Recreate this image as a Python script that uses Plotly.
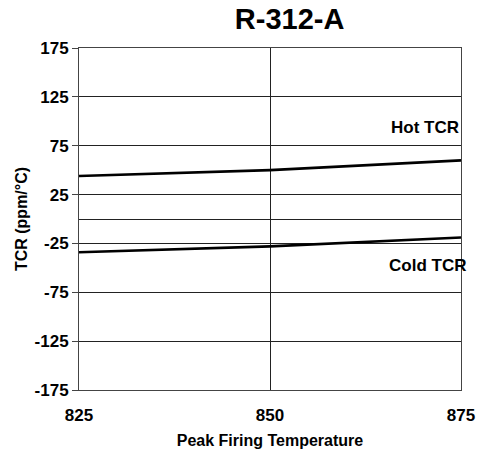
import plotly.graph_objects as go

# Peak firing temperature (°C) and TCR readings (ppm/°C)
temperature = [825, 850, 875]
hot_tcr = [44, 50, 60]
cold_tcr = [-34, -28, -19]

y_ticks = [175, 125, 75, 25, -25, -75, -125, -175]
x_ticks = [825, 850, 875]

FONT = "Liberation Sans, Arial, sans-serif"

fig = go.Figure()
fig.add_trace(go.Scatter(x=temperature, y=hot_tcr, mode="lines",
                         line=dict(color="black", width=2.6), name="Hot TCR"))
fig.add_trace(go.Scatter(x=temperature, y=cold_tcr, mode="lines",
                         line=dict(color="black", width=2.6), name="Cold TCR"))

fig.add_annotation(text="<b>Hot TCR</b>", xref="paper", yref="y",
                   x=1.0, y=94, xanchor="right", yanchor="middle",
                   showarrow=False, font=dict(family=FONT, size=17, color="black"))
fig.add_annotation(text="<b>Cold TCR</b>", xref="paper", yref="y",
                   x=1.018, y=-48, xanchor="right", yanchor="middle",
                   showarrow=False, font=dict(family=FONT, size=17, color="black"))

fig.update_layout(
    width=486, height=453,
    margin=dict(l=79, r=25, t=48, b=63),
    paper_bgcolor="white", plot_bgcolor="white",
    showlegend=False,
    title=dict(text="<b>R-312-A</b>", x=0.596, xanchor="center",
               y=0.958, yanchor="middle",
               font=dict(family=FONT, size=29, color="black")),
    font=dict(family=FONT, color="black"),
)

fig.update_xaxes(
    range=[825, 875], tickvals=x_ticks, ticktext=[str(v) for v in x_ticks],
    showgrid=True, gridcolor="#222", gridwidth=1,
    showline=True, linecolor="#444", linewidth=1, mirror=True,
    ticks="", tickfont=dict(family=FONT, size=17, color="black", weight="bold"),
    ticklabelstandoff=10, automargin=False,
    title=dict(text="<b>Peak Firing Temperature</b>", standoff=10,
               font=dict(family=FONT, size=16, color="black")),
    zeroline=False,
)
fig.update_yaxes(
    range=[-175, 175], tickvals=y_ticks, ticktext=[str(v) for v in y_ticks],
    showgrid=True, gridcolor="#222", gridwidth=1,
    zeroline=True, zerolinecolor="#222", zerolinewidth=1,
    showline=True, linecolor="#444", linewidth=1, mirror=True,
    ticks="outside", ticklen=6, tickcolor="#444", automargin=False,
    tickfont=dict(family=FONT, size=17, color="black", weight="bold"),
    title=dict(text="<b>TCR (ppm/°C)</b>", standoff=2,
               font=dict(family=FONT, size=16, color="black")),
)

fig.write_html("out.html")
